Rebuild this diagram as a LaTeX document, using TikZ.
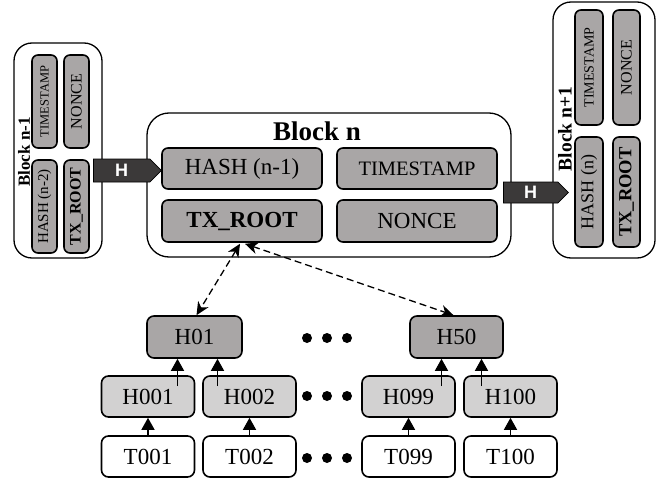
\documentclass[tikz,border=0pt]{standalone}
\usepackage{fontspec}
\setmainfont{Liberation Serif}
\newfontfamily\tagfont{Liberation Sans}
\usetikzlibrary{arrows.meta,shapes.symbols,calc}

\definecolor{fieldgray}{HTML}{A9A6A6}
\definecolor{leafgray}{HTML}{D2D1D1}
\definecolor{tagdark}{HTML}{3B3939}

\tikzset{
  blockbox/.style={draw, line width=1.3pt, rounded corners=18pt, fill=white, inner sep=0pt},
  field/.style={draw, line width=1.6pt, rounded corners=6pt, fill=fieldgray, inner sep=0pt},
  vfield/.style={field, rotate=90},
  treebox/.style={draw, line width=1.6pt, rounded corners=7pt, inner sep=0pt,
    minimum width=93pt, minimum height=41pt, font=\fontsize{23}{23}\selectfont},
  hashnode/.style={treebox, fill=fieldgray},
  leafhash/.style={treebox, fill=leafgray},
  txnode/.style={treebox, fill=white},
  hashtag/.style={signal, signal to=east, signal pointer angle=90, fill=tagdark,
    draw=black, line width=0.8pt, inner sep=0pt, text=white, anchor=west,
    font=\tagfont\bfseries\fontsize{18}{18}\selectfont},
  solidarrow/.style={line width=1.4pt, -{Triangle[width=13pt,length=12pt]}},
  linkarrow/.style={line width=1.3pt, dash pattern=on 7pt off 4pt,
    {Stealth[length=13pt,width=12pt,inset=4pt]}-{Stealth[length=13pt,width=12pt,inset=4pt]}},
  dot/.style={circle, fill=black, inner sep=0pt, minimum size=10pt}
}

\begin{document}
\begin{tikzpicture}[x=1pt,y=-1pt]
\useasboundingbox (0,0) rectangle (670,482);

% ---- block n-1 (rotated, left) ----
\node[blockbox, minimum width=88pt, minimum height=215pt] (prevblk) at (58,150.5) {};
\node[rotate=90, font=\bfseries\fontsize{17}{17}\selectfont] (prevlbl) at (24,152) {Block n-1};
\node[vfield, minimum width=93pt, minimum height=25pt, font=\fontsize{12.5}{12.5}\selectfont]
  (prevts) at (44.5,101.5) {TIMESTAMP};
\node[vfield, minimum width=93pt, minimum height=25pt, font=\fontsize{16}{16}\selectfont]
  (prevnonce) at (76.5,101.5) {NONCE};
\node[vfield, minimum width=93pt, minimum height=25pt, font=\fontsize{15}{15}\selectfont]
  (prevhash) at (44.5,206.5) {HASH (n-2)};
\node[vfield, minimum width=93pt, minimum height=25pt, font=\bfseries\fontsize{16}{16}\selectfont]
  (prevroot) at (76.5,206.5) {TX\_ROOT};

% ---- block n (centre) ----
\node[blockbox, rounded corners=22pt, minimum width=364pt, minimum height=144pt] (curblk) at (329,185) {};
\node[font=\bfseries\fontsize{27}{27}\selectfont] (curlbl) at (317,131) {Block n};
\node[field, minimum width=160pt, minimum height=41pt, font=\fontsize{23}{23}\selectfont]
  (curhash) at (242,168.5) {HASH (n-1)};
\node[field, minimum width=160pt, minimum height=41pt, font=\fontsize{20.5}{20.5}\selectfont]
  (curts) at (417,168.5) {TIMESTAMP};
\node[field, minimum width=160pt, minimum height=42pt, font=\bfseries\fontsize{23}{23}\selectfont]
  (curroot) at (242,221) {TX\_ROOT};
\node[field, minimum width=160pt, minimum height=42pt, font=\fontsize{23}{23}\selectfont]
  (curnonce) at (417,221) {NONCE};

% ---- block n+1 (rotated, right) ----
\node[blockbox, minimum width=102pt, minimum height=256pt] (nextblk) at (604,130) {};
\node[rotate=90, font=\bfseries\fontsize{19.5}{19.5}\selectfont] (nextlbl) at (565,129) {Block n+1};
\node[vfield, minimum width=115pt, minimum height=28pt, font=\fontsize{14}{14}\selectfont]
  (nextts) at (589,67.5) {TIMESTAMP};
\node[vfield, minimum width=115pt, minimum height=27pt, font=\fontsize{16}{16}\selectfont]
  (nextnonce) at (626.5,67.5) {NONCE};
\node[vfield, minimum width=110pt, minimum height=28pt, font=\fontsize{18}{18}\selectfont]
  (nexthash) at (589,192) {HASH (n)};
\node[vfield, minimum width=110pt, minimum height=27pt, font=\bfseries\fontsize{18.5}{18.5}\selectfont]
  (nextroot) at (626.5,192) {TX\_ROOT};

% ---- hash links between blocks ----
\node[hashtag, minimum width=68pt, minimum height=23pt] (tagleft) at (93,170.5) {H};
\node[hashtag, minimum width=65pt, minimum height=21pt] (tagright) at (503,192.5) {H};

% ---- Merkle tree ----
\node[hashnode, minimum width=95pt, minimum height=42pt] (h01) at (194.5,337) {H01};
\node[hashnode, minimum width=93pt, minimum height=42pt] (h50) at (456.5,337) {H50};

\node[leafhash] (h001) at (148,396.5) {H001};
\node[leafhash] (h002) at (249.5,396.5) {H002};
\node[leafhash] (h099) at (408.5,396.5) {H099};
\node[leafhash] (h100) at (510.5,396.5) {H100};

\node[txnode] (t001) at (148,456.5) {T001};
\node[txnode] (t002) at (249.5,456.5) {T002};
\node[txnode] (t099) at (408.5,456.5) {T099};
\node[txnode] (t100) at (510.5,456.5) {T100};

% ellipsis dots
\foreach \row/\yy in {a/338, b/396, c/458} {
  \node[dot] (dot\row1) at (307,\yy) {};
  \node[dot] (dot\row2) at (327,\yy) {};
  \node[dot] (dot\row3) at (347,\yy) {};
}

% transactions hashed into leaves
\draw[solidarrow] (t001.north) -- (h001.south);
\draw[solidarrow] (t002.north) -- (h002.south);
\draw[solidarrow] (t099.north) -- (h099.south);
\draw[solidarrow] (t100.north) -- (h100.south);

% leaves combined into parent hashes
\coordinate (h01a) at ($(h01.south)+(-17,0)$);
\coordinate (h01b) at ($(h01.south)+(23,0)$);
\coordinate (h50a) at ($(h50.south)+(-15,0)$);
\coordinate (h50b) at ($(h50.south)+(25,0)$);
\draw[solidarrow] ($(h001.north -| h01a)+(0,11)$) -- (h01a);
\draw[solidarrow] ($(h002.north -| h01b)+(0,11)$) -- (h01b);
\draw[solidarrow] ($(h099.north -| h50a)+(0,11)$) -- (h50a);
\draw[solidarrow] ($(h100.north -| h50b)+(0,11)$) -- (h50b);

% root reference to the tree
\draw[linkarrow] ($(curroot.south)+(-2,1)$) -- ($(h01.north)+(2,0)$);
\draw[linkarrow] ($(curroot.south)+(3,1)$) -- ($(h50.north)+(-3,0)$);

\end{tikzpicture}
\end{document}
